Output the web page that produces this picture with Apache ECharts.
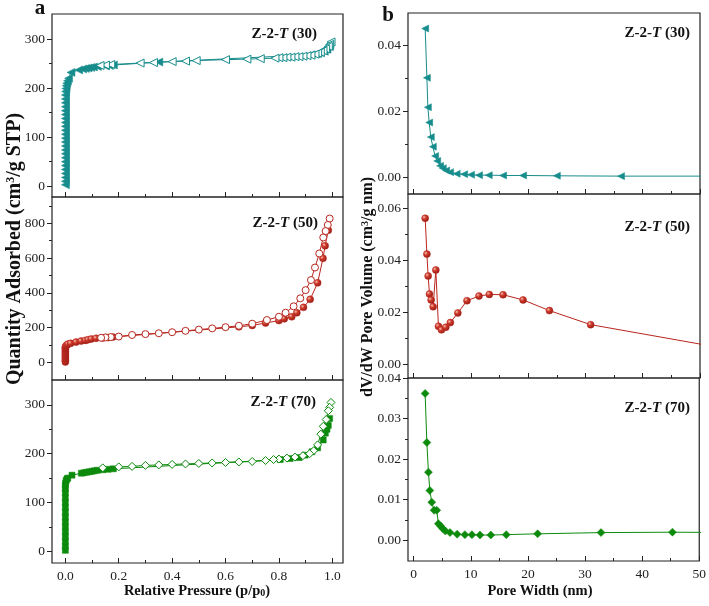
<!DOCTYPE html>
<html><head><meta charset="utf-8">
<script src="https://cdn.jsdelivr.net/npm/echarts@6/dist/echarts.min.js"></script>
<style>html,body{margin:0;padding:0;background:#fff}#c{width:709px;height:606px}</style>
</head><body><div id="c"></div>
<script>
// ---------- Isotherm data (relative pressure p/p0, quantity adsorbed cm3/g STP) ----------
const iso30AdsP = [0,0,0,0,0,0,0,0,0,0,0,0,0,0,0,0,0,0,0,0,0,0,0,0,0.001,0.002,0.003,0.005,0.008,0.012,0.021,0.05,0.065,0.075,0.085,0.095,0.105,0.12,0.15,0.165,0.18,0.35,0.92,0.94,0.955,0.97,0.98,0.99];
const iso30AdsQ = [3,10,18,26,34,42,50,58,66,74,82,90,98,106,114,122,130,138,146,154,162,170,178,186,193,199,205,210,215,220,232,237,239,240,241,242,243,244,245,246,247,253,268,270,272,275,279,285];
const iso30DesP = [0.995,0.99,0.985,0.975,0.965,0.955,0.945,0.935,0.92,0.905,0.89,0.875,0.86,0.845,0.83,0.815,0.80,0.785,0.73,0.68,0.60,0.49,0.45,0.40,0.33,0.28,0.17,0.15,0.13];
const iso30DesQ = [294,289,285,280,276,273,271,269,267,266,265,264,264,263,263,262,262,261,260,259,258,256,255,254,252,251,248,247,246];

const iso50AdsP = [0,0,0,0,0,0,0,0,0,0,0.001,0.003,0.006,0.01,0.02,0.04,0.059,0.075,0.085,0.097,0.115,0.14,0.16,0.178,0.65,0.70,0.75,0.80,0.82,0.848,0.867,0.892,0.917,0.945,0.965,0.973,0.985];
const iso50AdsQ = [2,10,20,30,40,50,60,70,78,85,90,95,100,105,109,116,122,126,130,134,138,140,142,145,204,212,226,240,250,262,285,316,362,457,598,670,760];
const iso50DesP = [0.99,0.983,0.975,0.966,0.951,0.935,0.92,0.90,0.88,0.855,0.825,0.80,0.755,0.70,0.65,0.60,0.55,0.50,0.45,0.40,0.35,0.30,0.25,0.20,0.17,0.15,0.134];
const iso50DesQ = [827,790,755,718,626,545,473,415,368,322,285,262,243,222,210,202,195,188,181,173,167,162,157,148,145,143,141];

const iso70AdsP = [0,0,0,0,0,0,0,0,0,0,0,0,0,0,0,0.001,0.003,0.006,0.009,0.025,0.06,0.07,0.08,0.09,0.10,0.11,0.12,0.14,0.16,0.18,0.805,0.842,0.876,0.898,0.924,0.945,0.966,0.974,0.98,0.985,0.99];
const iso70AdsQ = [2,10,20,30,40,50,60,70,80,90,100,110,120,128,135,140,145,148,150,156,160,161,162,163,164,165,166,167,168,169,188,190,192,197,204,212,228,242,250,258,272];
const iso70DesP = [0.995,0.99,0.985,0.977,0.966,0.957,0.945,0.93,0.915,0.89,0.86,0.83,0.80,0.78,0.75,0.70,0.65,0.60,0.55,0.50,0.45,0.40,0.35,0.30,0.25,0.20,0.14];
const iso70DesQ = [305,295,288,270,256,240,218,206,200,196,193,191,189,188,186,184,183,182,181,180,179,178,177,176,174,173,171];

// ---------- Pore size distribution data (pore width nm, dV/dW cm3/g nm) ----------
const psd30W = [2.0,2.3,2.47,2.7,2.98,3.34,3.74,4.1,4.6,5.08,5.66,6.35,7.5,8.8,10.0,11.4,13.1,15.6,19.1,25.0,36.2,60];
const psd30V = [0.0450,0.0301,0.0212,0.0166,0.0122,0.0093,0.0065,0.0050,0.0035,0.0028,0.0021,0.0016,0.0011,0.0010,0.0008,0.0007,0.0007,0.0006,0.0006,0.0005,0.0004,0.0004];
const psd50W = [2.0,2.3,2.52,2.75,3.04,3.39,3.86,4.32,4.84,5.6,6.4,7.7,9.3,11.4,13.2,15.6,19.1,23.7,30.9,55];
const psd50V = [0.0562,0.0424,0.0340,0.0271,0.0248,0.0222,0.0363,0.0147,0.0133,0.0143,0.0161,0.0198,0.0245,0.0263,0.0269,0.0268,0.0248,0.0207,0.0153,0.0059];
const psd70W = [2.0,2.3,2.58,2.82,3.16,3.57,4.03,4.32,4.72,5.07,5.54,6.35,7.6,8.96,10.2,11.6,13.5,16.2,21.7,32.8,45.3,70];
const psd70V = [0.0362,0.0241,0.0168,0.0123,0.0094,0.0074,0.0074,0.0041,0.0035,0.0029,0.0023,0.0019,0.0015,0.0014,0.0014,0.0013,0.0013,0.0014,0.0016,0.0019,0.0020,0.0018];

// ---------- Tick values ----------
const isoXMajor = [0, 0.2, 0.4, 0.6, 0.8, 1.0];
const isoXMinor = [0.1, 0.3, 0.5, 0.7, 0.9];
const iso30YMajor = [0, 100, 200, 300];
const iso30YMinor = [50, 150, 250];
const iso50YMajor = [0, 200, 400, 600, 800];
const iso50YMinor = [100, 300, 500, 700, 900];
const iso70YMajor = [0, 100, 200, 300];
const iso70YMinor = [50, 150, 250];
const psdXMajor = [0, 10, 20, 30, 40, 50];
const psdXMinor = [5, 15, 25, 35, 45];
const psd30YMajor = [0, 0.02, 0.04];
const psd30YMinor = [0.01, 0.03];
const psd50YMajor = [0, 0.02, 0.04, 0.06];
const psd50YMinor = [0.01, 0.03, 0.05];
const psd70YMajor = [0, 0.01, 0.02, 0.03, 0.04];
const psd70YMinor = [0.005, 0.015, 0.025, 0.035];

const sampleNames = ['30', '50', '70'];

// ---------- Build ----------
const FONT = 'Liberation Serif';
const teal = '#178c8c', red = '#b8261e', green = '#0c8a0c';
const axisColor = '#222';
function pairs(xs, ys) { return xs.map((x, i) => [x, ys[i]]); }

const grids = [
  {left: 52, top: 14, width: 291, height: 183},
  {left: 52, top: 197, width: 291, height: 183},
  {left: 52, top: 380, width: 291, height: 183},
  {left: 408, top: 13, width: 292, height: 181},
  {left: 408, top: 194, width: 292, height: 184},
  {left: 408, top: 378, width: 292, height: 183}
].map(g => Object.assign({show: true, borderColor: axisColor, borderWidth: 1.2, backgroundColor: 'transparent'}, g));

const labelStyle = {fontFamily: FONT, fontSize: 13.5, color: '#222'};
function mkAxes(dim, g, min, max, major, minor, showLabels, fmt) {
  const inside = dim === 'x';
  const base = {gridIndex: g, type: 'value', min: min, max: max,
    axisLine: {show: false, onZero: false}, splitLine: {show: false}};
  const maj = Object.assign({}, base, {
    axisTick: {show: true, inside: inside, length: 5, customValues: major, lineStyle: {color: axisColor, width: 1}},
    axisLabel: Object.assign({show: showLabels, customValues: major, formatter: fmt, margin: inside ? 6 : 7}, labelStyle)
  });
  const mnr = Object.assign({}, base, {
    axisTick: {show: true, inside: inside, length: 3, customValues: minor, lineStyle: {color: axisColor, width: 1}},
    axisLabel: {show: false}
  });
  if (dim === 'x') { maj.position = 'bottom'; mnr.position = 'bottom'; }
  else { maj.position = 'left'; mnr.position = 'left'; }
  return [maj, mnr];
}
const f1 = v => v.toFixed(1), f0 = v => String(Math.round(v)), f2 = v => v.toFixed(2);

const xAxis = [].concat(
  mkAxes('x', 0, -0.05, 1.04, isoXMajor, isoXMinor, false, f1),
  mkAxes('x', 1, -0.05, 1.04, isoXMajor, isoXMinor, false, f1),
  mkAxes('x', 2, -0.05, 1.04, isoXMajor, isoXMinor, true, f1),
  mkAxes('x', 3, -1, 50, psdXMajor, psdXMinor, false, f0),
  mkAxes('x', 4, -1, 50, psdXMajor, psdXMinor, false, f0),
  mkAxes('x', 5, -1, 50, psdXMajor, psdXMinor, true, f0)
);
const yAxis = [].concat(
  mkAxes('y', 0, -22, 351, iso30YMajor, iso30YMinor, true, f0),
  mkAxes('y', 1, -102, 951, iso50YMajor, iso50YMinor, true, f0),
  mkAxes('y', 2, -24, 351, iso70YMajor, iso70YMinor, true, f0),
  mkAxes('y', 3, -0.005, 0.0497, psd30YMajor, psd30YMinor, true, f2),
  mkAxes('y', 4, -0.0052, 0.0655, psd50YMajor, psd50YMinor, true, f2),
  mkAxes('y', 5, -0.0051, 0.04, psd70YMajor, psd70YMinor, true, f2)
);

const redBall = {type: 'radial', x: 0.35, y: 0.35, r: 0.75, colorStops: [
  {offset: 0, color: '#f6c0b0'}, {offset: 0.35, color: '#cf3a2c'}, {offset: 1, color: '#8a1510'}]};

function line(g, data, color, symbol, size, filled, rot, fill) {
  return {type: 'line', xAxisIndex: 2 * g, yAxisIndex: 2 * g, data: data,
    symbol: symbol, symbolSize: size, symbolRotate: rot || 0, clip: true,
    showAllSymbol: true, silent: true, animation: false,
    lineStyle: {color: color, width: 1},
    itemStyle: filled ? {color: fill || color, borderColor: color, borderWidth: 0.5}
                      : {color: '#fff', borderColor: color, borderWidth: 1},
    emphasis: {disabled: true}};
}

const series = [
  line(0, pairs(iso30AdsP, iso30AdsQ), teal, 'triangle', 8, true, 90),
  line(0, pairs(iso30DesP, iso30DesQ), teal, 'triangle', 8, false, 90),
  line(1, pairs(iso50AdsP, iso50AdsQ), red, 'circle', 7, true, 0, redBall),
  line(1, pairs(iso50DesP, iso50DesQ), red, 'circle', 7, false, 0),
  line(2, pairs(iso70AdsP, iso70AdsQ), green, 'rect', 6, true, 0),
  line(2, pairs(iso70DesP, iso70DesQ), green, 'diamond', 8, false, 0),
  line(3, pairs(psd30W, psd30V), teal, 'triangle', 7, true, 90),
  line(4, pairs(psd50W, psd50V), red, 'circle', 7, true, 0, redBall),
  line(5, pairs(psd70W, psd70V), green, 'diamond', 8, true, 0)
];

const richBase = {
  b: {fontFamily: FONT, fontWeight: 'bold', fontSize: 15, fill: '#111'},
  i: {fontFamily: FONT, fontWeight: 'bold', fontStyle: 'italic', fontSize: 15, fill: '#111'}
};
function sampleLabel(x, y, name) {
  return {type: 'text', x: x, y: y, silent: true,
    style: {text: '{b|Z-2-}{i|T}{b| (' + name + ')}', rich: richBase, align: 'right', verticalAlign: 'middle'}};
}
const titleFont = (size) => ({fontFamily: FONT, fontWeight: 'bold', fontSize: size, fill: '#111'});

const graphic = [
  sampleLabel(317, 34, sampleNames[0]),
  sampleLabel(318, 223, sampleNames[1]),
  sampleLabel(316, 402, sampleNames[2]),
  sampleLabel(690, 33, sampleNames[0]),
  sampleLabel(690, 227, sampleNames[1]),
  sampleLabel(690, 408, sampleNames[2]),
  {type: 'text', x: 40, y: 9, silent: true, style: {text: 'a', font: 'bold 21px "Liberation Serif"', fill: '#111', align: 'center', verticalAlign: 'middle'}},
  {type: 'text', x: 388, y: 16, silent: true, style: {text: 'b', font: 'bold 21px "Liberation Serif"', fill: '#111', align: 'center', verticalAlign: 'middle'}},
  {type: 'text', x: 15, y: 249, rotation: Math.PI / 2, silent: true,
    style: {text: '{t|Quantity Adsorbed (cm}{s|3}{t|/g STP)}', align: 'center', verticalAlign: 'middle',
      rich: {t: titleFont(20), s: Object.assign(titleFont(12), {verticalAlign: 'top'})}}},
  {type: 'text', x: 368, y: 287, rotation: Math.PI / 2, silent: true,
    style: {text: '{t|dV/dW Pore Volume (cm}{s|3}{t|/g nm)}', align: 'center', verticalAlign: 'middle',
      rich: {t: titleFont(16), s: Object.assign(titleFont(10), {verticalAlign: 'top'})}}},
  {type: 'text', x: 197, y: 591, silent: true,
    style: {text: '{t|Relative Pressure (p/p}{s|0}{t|)}', align: 'center', verticalAlign: 'middle',
      rich: {t: titleFont(14.5), s: Object.assign(titleFont(10), {verticalAlign: 'bottom'})}}},
  {type: 'text', x: 540, y: 591, silent: true,
    style: {text: 'Pore Width (nm)', align: 'center', verticalAlign: 'middle', font: 'bold 14.5px "Liberation Serif"', fill: '#111'}}
];

const chart = echarts.init(document.getElementById('c'), null, {renderer: 'canvas'});
chart.setOption({animation: false, backgroundColor: '#fff', grid: grids, xAxis: xAxis, yAxis: yAxis, series: series, graphic: graphic});
</script></body></html>
